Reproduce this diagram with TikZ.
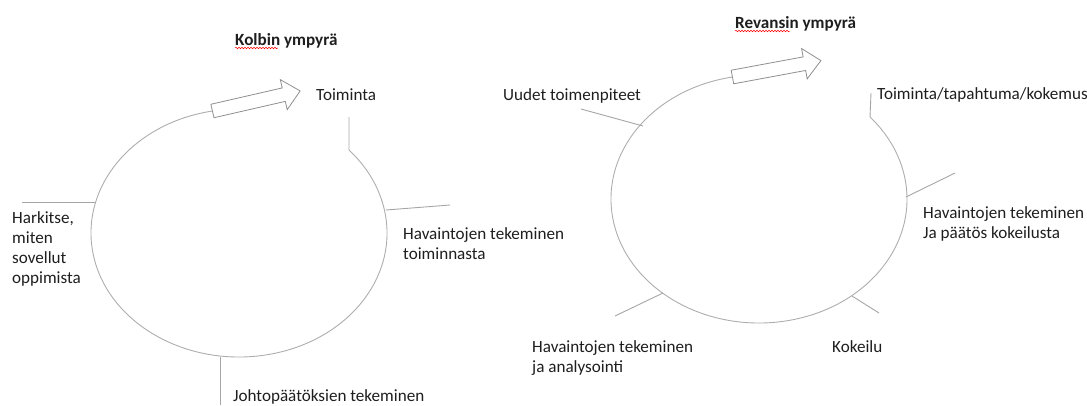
\documentclass[tikz,border=0pt]{standalone}
\usepackage{fontspec}
\setmainfont{Carlito}
\usetikzlibrary{shapes.arrows,decorations.pathmorphing}
\definecolor{ink}{HTML}{1E1E1E}
\definecolor{rimgray}{HTML}{ADADAD}
\definecolor{spokegray}{HTML}{A6A6A6}
\definecolor{arrowgray}{HTML}{8F8F8F}
\begin{document}
\begin{tikzpicture}[x=1pt,y=-1pt,
  every node/.style={inner sep=0pt, text=ink, font=\fontsize{17.1}{20}\selectfont},
  % multi-line labels are placed by the baseline of their last line
  lbl/.style={anchor=base west, align=left},
  heading/.style={anchor=base west, font=\fontsize{17.1}{20}\selectfont\bfseries},
  rim/.style={draw=rimgray, line width=0.9pt},
  spoke/.style={draw=spokegray, line width=0.9pt},
  blockarrow/.style={single arrow, draw=arrowgray, fill=white, line width=0.8pt,
    inner xsep=0pt, inner ysep=6.5pt, minimum height=90pt,
    single arrow head extend=8.5pt, single arrow tip angle=85, anchor=tail},
  squiggle/.style={draw=red, line width=0.5pt, decorate,
    decoration={snake, amplitude=0.8pt, segment length=3pt}}
]
\useasboundingbox (0,0) rectangle (1087,405);

% ---------------- Kolb's cycle ----------------
\coordinate (kc) at (239,233);
\draw[rim] (kc) ++(259.5:148 and 124) coordinate (kStart)
  arc[start angle=259.5, end angle=-42, x radius=148, y radius=124] coordinate (kEnd);
\node[blockarrow, rotate=12.9] (kArrow) at (kStart) {};

\node[heading] (kTitle) at (235,45) {Kolbin ympyrä};
\draw[squiggle] ([yshift=-3pt]kTitle.base west) -- ++(43,0);

\node[lbl] (kAct) at (316,100) {Toiminta};
\node[lbl] (kObs) at (403,259) {Havaintojen tekeminen\\toiminnasta};
\node[lbl] (kConc) at (233,401) {Johtopäätöksien tekeminen};
\node[lbl] (kApply) at (12,283) {Harkitse,\\miten\\sovellut\\oppimista};

\coordinate (kActEnd) at (349,117);
\coordinate (kObsIn) at (386,210);
\coordinate (kObsOut) at (450,205);
\coordinate (kConcIn) at (220,357);
\coordinate (kConcOut) at (220,405);
\coordinate (kApplyIn) at (95,202);
\coordinate (kApplyOut) at (22,202);
\draw[spoke] (kEnd) -- (kActEnd);
\draw[spoke] (kObsIn) -- (kObsOut);
\draw[spoke] (kConcIn) -- (kConcOut);
\draw[spoke] (kApplyIn) -- (kApplyOut);

% ---------------- Revans's cycle ----------------
\coordinate (rc) at (759,199);
\draw[rim] (rc) ++(259.5:148 and 124) coordinate (rStart)
  arc[start angle=259.5, end angle=-41.4, x radius=148, y radius=124] coordinate (rEnd);
\node[blockarrow, rotate=10.5] (rArrow) at (rStart) {};

\node[heading] (rTitle) at (735,28) {Revansin ympyrä};
\draw[squiggle] ([yshift=-3pt]rTitle.base west) -- ++(55,0);

\node[lbl] (rAct) at (877,99) {Toiminta/tapahtuma/kokemus};
\node[lbl] (rObs) at (923,238) {Havaintojen tekeminen\\Ja päätös kokeilusta};
\node[lbl] (rTry) at (832,352) {Kokeilu};
\node[lbl] (rAnal) at (532,372) {Havaintojen tekeminen\\ja analysointi};
\node[lbl] (rNew) at (503,100) {Uudet toimenpiteet};

\coordinate (rActEnd) at (871,93);
\coordinate (rObsIn) at (906,197);
\coordinate (rObsOut) at (955,173);
\coordinate (rTryIn) at (852,296);
\coordinate (rTryOut) at (879,313);
\coordinate (rAnalIn) at (663,293);
\coordinate (rAnalOut) at (615,316);
\coordinate (rNewIn) at (643,126);
\coordinate (rNewOut) at (581,109);
\draw[spoke] (rEnd) -- (rActEnd);
\draw[spoke] (rObsIn) -- (rObsOut);
\draw[spoke] (rTryIn) -- (rTryOut);
\draw[spoke] (rAnalIn) -- (rAnalOut);
\draw[spoke] (rNewIn) -- (rNewOut);
\end{tikzpicture}
\end{document}
